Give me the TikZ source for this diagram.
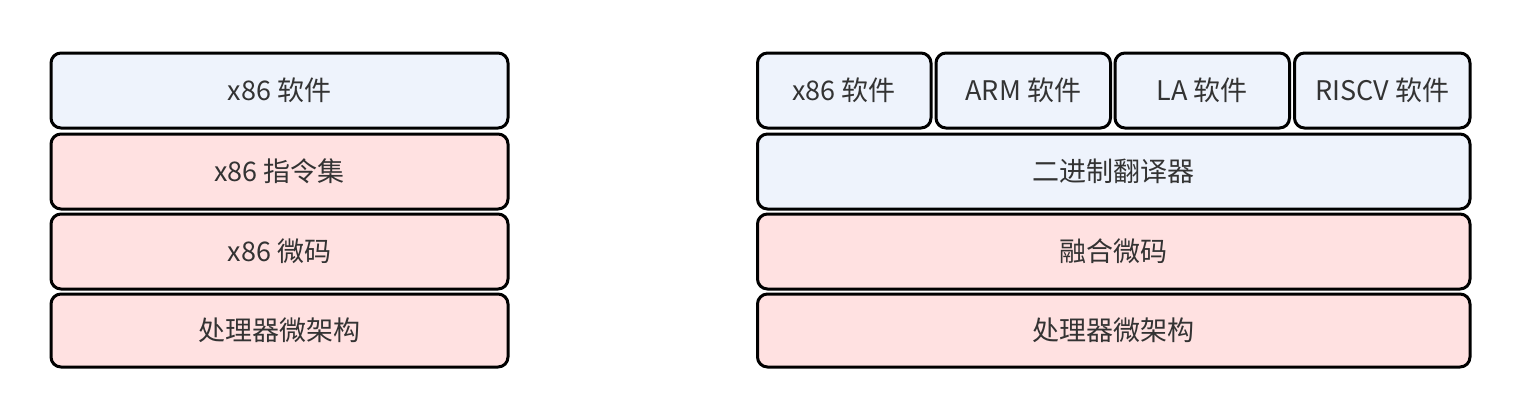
\documentclass[tikz,border=0pt]{standalone}
\usepackage{fontspec}
\setmainfont{Noto Sans CJK SC}
\definecolor{bluefill}{HTML}{EEF3FC}
\definecolor{pinkfill}{HTML}{FFE1E1}
\definecolor{txt}{HTML}{333333}
\begin{document}
\begin{tikzpicture}[x=1pt,y=-1pt,
  layer/.style={draw=black,line width=3pt,rounded corners=10pt,text=txt,
    inner sep=0pt,outer sep=0pt,minimum height=75pt,
    font=\fontsize{27}{30}\selectfont},
  bluebox/.style={layer,fill=bluefill},
  pinkbox/.style={layer,fill=pinkfill},
  widebox/.style={minimum width=457pt},
  fullbox/.style={minimum width=712.5pt},
  smallbox/.style={minimum width=174.5pt}]
\useasboundingbox (0,0) rectangle (1520,416);
% left stack
\node[bluebox,widebox] (l1) at (279.5,90.5) {x86 软件};
\node[pinkbox,widebox] (l2) at (279.5,171.5) {x86 指令集};
\node[pinkbox,widebox] (l3) at (279.5,251.5) {x86 微码};
\node[pinkbox,widebox,minimum height=73pt] (l4) at (279.5,330.5) {处理器微架构};
% right stack
\node[bluebox,minimum width=173.5pt] (r1) at (844.25,90.5) {x86 软件};
\node[bluebox,smallbox] (r2) at (1023.25,90.5) {ARM 软件};
\node[bluebox,smallbox] (r3) at (1202.25,90.5) {LA 软件};
\node[bluebox,minimum width=175.5pt] (r4) at (1382.25,90.5) {RISCV 软件};
\node[bluebox,fullbox] (r5) at (1113.75,171.5) {二进制翻译器};
\node[pinkbox,fullbox] (r6) at (1113.75,251.5) {融合微码};
\node[pinkbox,fullbox,minimum height=73pt] (r7) at (1113.75,330.5) {处理器微架构};
\end{tikzpicture}
\end{document}
